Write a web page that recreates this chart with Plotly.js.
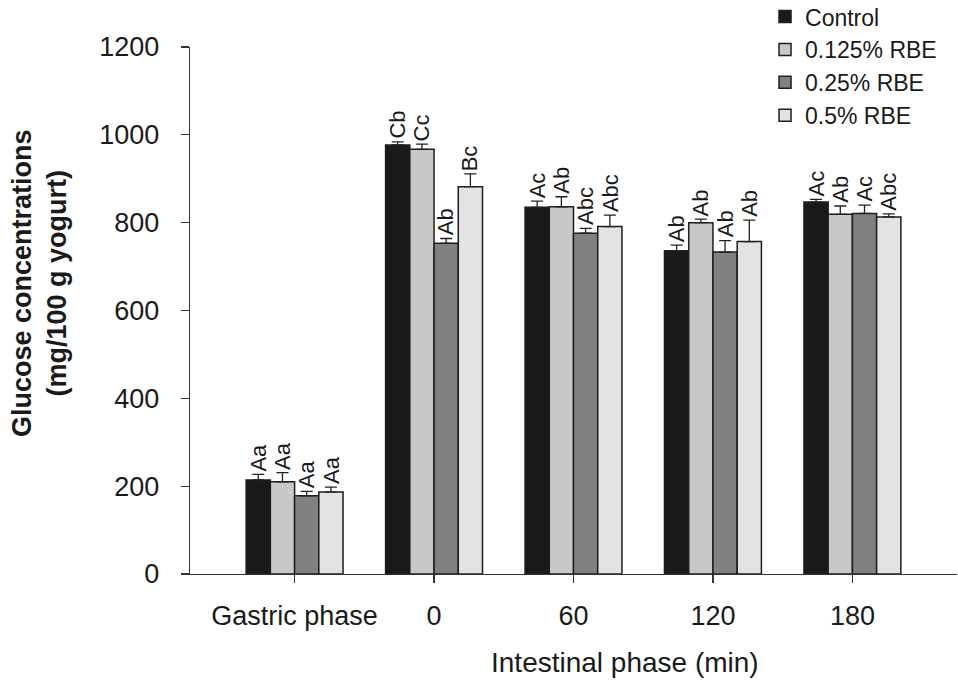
<!DOCTYPE html>
<html>
<head>
<meta charset="utf-8">
<script src="https://cdn.plot.ly/plotly-3.0.1.min.js"></script>
<style>html,body{margin:0;padding:0;background:#fff;}#chart{width:958px;height:682px;}</style>
</head>
<body>
<div id="chart"></div>
<script>
const categories = ["Gastric phase", "0", "60", "120", "180"];
const seriesNames = ["Control", "0.125% RBE", "0.25% RBE", "0.5% RBE"];

const control = [214, 977, 835, 736, 847];
const controlErr = [13, 7, 14, 13, 6];
const rbe0125 = [210, 967, 836, 800, 819];
const rbe0125Err = [21, 12, 23, 8, 19];
const rbe025 = [178, 753, 776, 733, 821];
const rbe025Err = [10, 11, 11, 26, 19];
const rbe05 = [187, 882, 791, 757, 813];
const rbe05Err = [11, 29, 26, 49, 7];

const controlLabels = ["Aa", "Cb", "Ac", "Ab", "Ac"];
const rbe0125Labels = ["Aa", "Cc", "Ab", "Ab", "Ab"];
const rbe025Labels = ["Aa", "Ab", "Abc", "Ab", "Ac"];
const rbe05Labels = ["Aa", "Bc", "Abc", "Ab", "Abc"];

const yTicks = [0, 200, 400, 600, 800, 1000, 1200];

const values = [control, rbe0125, rbe025, rbe05];
const errors = [controlErr, rbe0125Err, rbe025Err, rbe05Err];
const labels = [controlLabels, rbe0125Labels, rbe025Labels, rbe05Labels];
const colors = ["#1a1a1a", "#c8c8c8", "#808180", "#e3e3e5"];

const FONT = "Liberation Sans, Arial, sans-serif";
const INK = "#1a1a1a";
const bargap = 0.305;
const barW = (1 - bargap) / seriesNames.length;

const traces = seriesNames.map((name, j) => ({
  type: "bar",
  name: name,
  x: categories,
  y: values[j],
  marker: {color: colors[j], line: {color: "#1e1e1e", width: 1.5}},
  error_y: {type: "data", array: errors[j], arrayminus: values[j].map(() => 0),
            symmetric: false, color: "#222", thickness: 1.3, width: 6},
  hoverinfo: "skip"
}));

const annotations = [];
labels.forEach((arr, j) => {
  arr.forEach((t, i) => {
    annotations.push({
      x: i + (j - (seriesNames.length - 1) / 2) * barW,
      y: values[j][i] + errors[j][i],
      xref: "x", yref: "y",
      text: t, showarrow: false, textangle: -90,
      xanchor: "center", yanchor: "bottom", yshift: 1,
      font: {family: FONT, size: 22, color: INK}
    });
  });
});
annotations.push({
  xref: "paper", yref: "paper", x: -0.197, y: 0.552,
  text: "<b>Glucose concentrations</b><br><b>(mg/100 g yogurt)</b>",
  showarrow: false, textangle: -90, xanchor: "center", yanchor: "middle",
  font: {family: FONT, size: 27, color: INK}
});
annotations.push({
  xref: "paper", yref: "paper", x: 0.567, y: -0.167,
  text: "Intestinal phase (min)", showarrow: false,
  xanchor: "center", yanchor: "middle",
  font: {family: FONT, size: 28, color: INK}
});

const layout = {
  width: 958, height: 682,
  margin: {l: 190, r: 1, t: 47, b: 108, pad: 0, autoexpand: false},
  paper_bgcolor: "#ffffff", plot_bgcolor: "#ffffff",
  barmode: "group", bargap: bargap, bargroupgap: 0,
  font: {family: FONT, color: INK},
  showlegend: true,
  legend: {x: 0.7497, y: 1.0985, xanchor: "left", yanchor: "top",
           font: {family: FONT, size: 23, color: INK},
           bgcolor: "rgba(0,0,0,0)", borderwidth: 0, tracegroupgap: 0},
  xaxis: {
    type: "category", range: [-0.75, 4.75],
    showline: true, linecolor: "#333", linewidth: 1.3,
    ticks: "outside", ticklen: 8, tickwidth: 1.3, tickcolor: "#333",
    tickfont: {family: FONT, size: 27, color: INK},
    ticklabelstandoff: 9,
    showgrid: false, zeroline: false, fixedrange: true
  },
  yaxis: {
    range: [0, 1200], tickvals: yTicks, ticktext: yTicks.map(String),
    showline: true, linecolor: "#333", linewidth: 1.3,
    ticks: "outside", ticklen: 8, tickwidth: 1.3, tickcolor: "#333",
    tickfont: {family: FONT, size: 27, color: INK},
    ticklabelstandoff: 16,
    showgrid: false, zeroline: false, fixedrange: true
  },
  annotations: annotations
};

Plotly.newPlot("chart", traces, layout, {displayModeBar: false, staticPlot: true});
</script>
</body>
</html>
